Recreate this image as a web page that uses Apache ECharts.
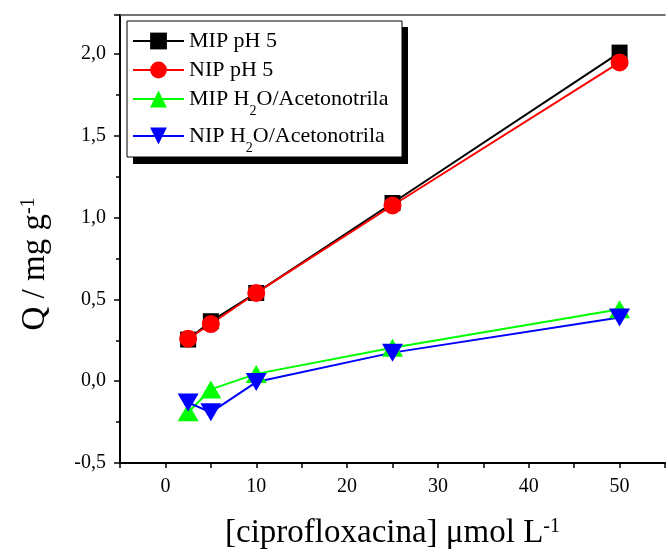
<!DOCTYPE html>
<html>
<head>
<meta charset="utf-8">
<script src="https://cdn.jsdelivr.net/npm/echarts@6/dist/echarts.min.js"></script>
<style>
html,body{margin:0;padding:0;background:#fff;}
#chart{width:668px;height:555px;}
</style>
</head>
<body>
<div id="chart"></div>
<script>
const xValues = [2.5, 5, 10, 25, 50];
const mipPH5 = [0.255, 0.367, 0.54, 1.09, 2.01];
const nipPH5 = [0.26, 0.35, 0.54, 1.075, 1.95];
const mipH2O = [-0.19, -0.05, 0.045, 0.205, 0.44];
const nipH2O = [-0.13, -0.19, -0.005, 0.175, 0.39];
const seriesNames = ['MIP pH 5', 'NIP pH 5', 'MIP H2O/Acetonotrila', 'NIP H2O/Acetonotrila'];
const xLabels = [0, 10, 20, 30, 40, 50];
const yLabels = [-0.5, 0, 0.5, 1.0, 1.5, 2.0];

const FONT = 'Liberation Serif';
const pairs = arr => xValues.map((x, i) => [x, arr[i]]);

const chart = echarts.init(document.getElementById('chart'), null, {renderer: 'canvas'});
const mk = (name, data, color, symbol, size) => ({
  name, type: 'line', data: pairs(data), symbol, symbolSize: size,
  lineStyle: {color, width: 2}, itemStyle: {color}, z: 3
});
chart.setOption({
  animation: false,
  backgroundColor: '#fff',
  grid: {left: 120, top: 15, right: -12, bottom: 89},
  graphic: [
    {type: 'rect', z: 10, shape: {x: 133, y: 27, width: 275, height: 137}, style: {fill: '#000'}},
    {type: 'rect', z: 11, shape: {x: 127, y: 21, width: 275, height: 136}, style: {fill: '#fff', stroke: '#000', lineWidth: 1}}
  ],
  legend: {
    orient: 'vertical', left: 132, top: 30, z: 20,
    padding: 0,
    itemWidth: 51, itemHeight: 21, itemGap: 7, itemTextGap: 6,
    data: seriesNames,
    formatter: n => n.replace('H2O', 'H{sub|2}O'),
    textStyle: {
      fontFamily: FONT, fontSize: 22, color: '#000', lineHeight: 22,
      rich: {
        sub: {fontFamily: FONT, fontSize: 14, padding: [16, 0, 0, 0], verticalAlign: 'top', color: '#000'}
      }
    }
  },
  xAxis: [{
    type: 'value', min: -5, max: 55, interval: 5,
    name: '[ciprofloxacina] μmol L{sup|-1}', nameLocation: 'middle', nameGap: 54,
    nameTextStyle: {fontFamily: FONT, fontSize: 33, color: '#000',
      rich: {sup: {fontFamily: FONT, fontSize: 20, verticalAlign: 'top', color: '#000'}}},
    axisLine: {onZero: false, lineStyle: {color: '#000', width: 2}},
    axisTick: {show: true, inside: false, length: 5, lineStyle: {color: '#000', width: 1.5}},
    axisLabel: {fontFamily: FONT, fontSize: 20, color: '#000', margin: 14,
      formatter: v => xLabels.includes(v) ? String(v) : ''},
    splitLine: {show: false}
  }, {
    type: 'value', min: -5, max: 55, position: 'top',
    axisLine: {show: true, onZero: false, lineStyle: {color: '#444', width: 1.5}},
    axisTick: {show: false}, axisLabel: {show: false}, splitLine: {show: false}
  }],
  yAxis: {
    type: 'value', min: -0.5, max: 2.24, interval: 0.5,
    name: 'Q / mg g{sup|-1}', nameLocation: 'middle', nameGap: 68, nameRotate: 90,
    nameTextStyle: {fontFamily: FONT, fontSize: 33, color: '#000', padding: [0, 50, 0, 0],
      rich: {sup: {fontFamily: FONT, fontSize: 20, verticalAlign: 'top', color: '#000'}}},
    axisLine: {show: true, onZero: false, lineStyle: {color: '#000', width: 2}},
    axisTick: {show: true, inside: false, length: 6, lineStyle: {color: '#000', width: 1.5}},
    minorTick: {show: true, splitNumber: 2, length: 4, lineStyle: {color: '#000', width: 1.5}},
    axisLabel: {fontFamily: FONT, fontSize: 20, color: '#000', margin: 14, showMaxLabel: false,
      formatter: v => yLabels.some(t => Math.abs(t - v) < 1e-9) ? v.toFixed(1).replace('.', ',') : ''},
    splitLine: {show: false}, minorSplitLine: {show: false}
  },
  series: [
    mk(seriesNames[0], mipPH5, '#000000', 'rect', 16),
    mk(seriesNames[1], nipPH5, '#ff0000', 'circle', 18),
    mk(seriesNames[2], mipH2O, '#00ff00', 'triangle', [21, 18]),
    mk(seriesNames[3], nipH2O, '#0000ff', 'path://M0,0 L10,0 L5,9 Z', [21, 18])
  ]
});
</script>
</body>
</html>
